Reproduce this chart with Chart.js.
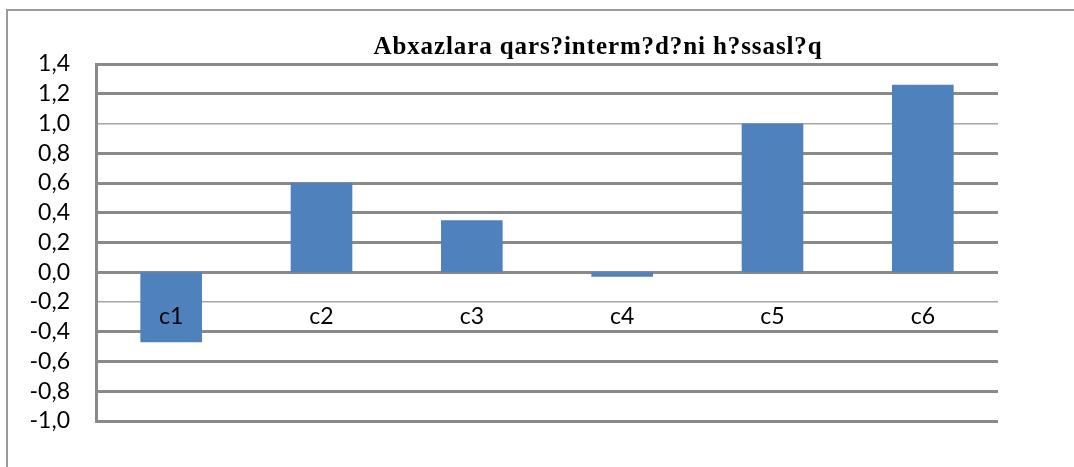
<!DOCTYPE html>
<html>
<head>
<meta charset="utf-8">
<script src="https://cdn.jsdelivr.net/npm/chart.js@4/dist/chart.umd.min.js"></script>
<style>
  html, body { margin: 0; padding: 0; background: #fff; }
  #wrap { width: 1074px; height: 467px; }
</style>
</head>
<body>
<div id="wrap"><canvas id="chart" width="1074" height="467"></canvas></div>
<script>
// data
const chartTitle = 'Abxazlara qars?interm?d?ni h?ssasl?q';
const categories = ['c1', 'c2', 'c3', 'c4', 'c5', 'c6'];
const values = [-0.47, 0.60, 0.35, -0.03, 1.00, 1.26];
const yMin = -1.0;
const yMax = 1.4;
const yStep = 0.2;
// ticks that come out as thin lines in the picture
const thinTicks = [1.0, -0.2];

const isThin = (v) => thinTicks.some((t) => Math.abs(t - v) < 1e-6);

//rita ram och titel
const framePlugin = {
  id: 'frame',
  beforeDraw(chart) {
    const ctx = chart.ctx;
    ctx.save();
    ctx.fillStyle = '#fff';
    ctx.fillRect(0, 0, chart.width, chart.height);
    ctx.strokeStyle = '#9a9a9a';
    ctx.lineWidth = 2;
    ctx.beginPath();
    ctx.moveTo(7, chart.height);
    ctx.lineTo(7, 10);
    ctx.lineTo(chart.width, 10);
    ctx.stroke();
    ctx.restore();
  },
  afterDraw(chart) {
    const ctx = chart.ctx;
    ctx.save();
    ctx.font = 'bold 25px "Liberation Serif", serif';
    ctx.letterSpacing = '0.9px';
    ctx.fillStyle = '#000';
    ctx.textAlign = 'center';
    ctx.textBaseline = 'alphabetic';
    ctx.fillText(chartTitle, 598, 54);
    ctx.restore();
  },
};

const labelFont = { size: 23, family: 'Lato, sans-serif' };

const chartConfig = {
  type: 'bar',
  data: {
    labels: categories,
    datasets: [
      {
        data: values,
        backgroundColor: '#4f81bd',
        borderWidth: 0,
        categoryPercentage: 1,
        barPercentage: 0.41,
      },
    ],
  },
  options: {
    responsive: false,
    animation: false,
    layout: {
      padding: { top: 64, right: 76, bottom: 46, left: 0 },
    },
    plugins: {
      legend: { display: false },
      title: { display: false },
      tooltip: { enabled: false },
    },
    scales: {
      x: {
        position: { y: 0 },
        grid: { display: false, drawTicks: false },
        border: { display: false },
        ticks: {
          z: 1, // etiketter ovanpa staplarna
          padding: 31,
          color: '#000',
          font: labelFont,
        },
      },
      y: {
        min: yMin,
        max: yMax,
        afterFit: (scale) => {
          scale.width = 96;
        },
        border: { display: true, color: '#8a8a8a', width: 3 },
        grid: {
          drawTicks: false,
          color: (ctx) => (isThin(ctx.tick.value) ? '#a6a6a6' : '#8a8a8a'),
          lineWidth: (ctx) => (isThin(ctx.tick.value) ? 1.5 : 3),
        },
        ticks: {
          stepSize: yStep,
          autoSkip: false,
          padding: 26,
          color: '#000',
          font: labelFont,
          callback: (v) => {
            const n = Math.abs(v) < 1e-9 ? 0 : v;
            return n.toFixed(1).replace('.', ',');
          },
        },
      },
    },
  },
  plugins: [framePlugin],
};

window.mainChart = new Chart(document.getElementById('chart'), chartConfig);
</script>
</body>
</html>
